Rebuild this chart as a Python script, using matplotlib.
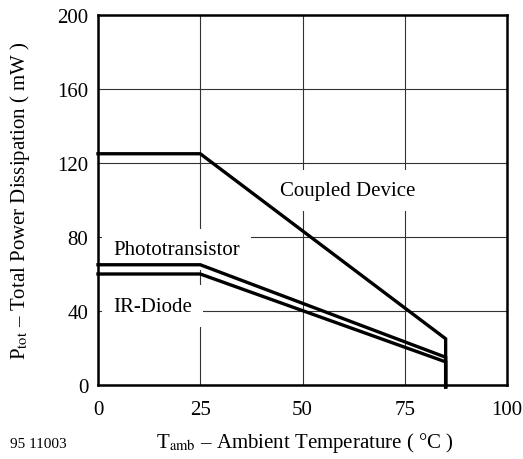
import matplotlib.pyplot as plt

plt.rcParams['font.family'] = ['Liberation Serif', 'DejaVu Serif']
plt.rcParams['mathtext.fontset'] = 'stix'

# derating curves (Tamb in degC, Ptot in mW)
t_coupled = [0, 25, 85, 85]
p_coupled = [125, 125, 25, -1]
t_photo = [0, 25, 85, 85]
p_photo = [65, 65, 15, -1]
t_diode = [0, 25, 85, 85]
p_diode = [60, 60, 12.5, -1]

xticks = [0, 25, 50, 75, 100]
yticks = [0, 40, 80, 120, 160, 200]

fig = plt.figure(figsize=(5.23, 4.60), dpi=100)
ax = fig.add_axes([98/523, 1-386/460, 409/523, 370/460])

ax.plot(t_coupled, p_coupled, color='black', lw=2.4, zorder=5, clip_on=False, solid_joinstyle='miter')
ax.plot(t_photo, p_photo, color='black', lw=2.4, zorder=5, clip_on=False, solid_joinstyle='miter')
ax.plot(t_diode, p_diode, color='black', lw=2.4, zorder=5, clip_on=False, solid_joinstyle='miter')

ax.set_xlim(0, 100)
ax.set_ylim(0, 200)
ax.set_xticks(xticks)
ax.set_yticks(yticks)
ax.grid(True, color='#333333', lw=0.8, zorder=1)
ax.set_axisbelow(True)
ax.tick_params(axis='both', direction='in', length=0, labelsize=15)
ax.tick_params(axis='x', pad=11)
ax.tick_params(axis='y', pad=7)
for s in ax.spines.values():
    s.set_linewidth(1.8)
    s.set_zorder(6)

box = dict(boxstyle='square,pad=0.55', fc='white', ec='none')
ax.text(44.5, 102.7, 'Coupled Device', fontsize=15, va='baseline', ha='left', bbox=box, zorder=3)
ax.text(3.7, 70.8, 'Phototransistor', fontsize=15, va='baseline', ha='left', bbox=box, zorder=3)
ax.text(3.7, 40.2, 'IR-Diode', fontsize=15, va='baseline', ha='left', bbox=box, zorder=3)

fig.text(305/523, 1-448/460, r'T$_{\rm amb}$ – Ambient Temperature ( °C )', fontsize=15,
         ha='center', va='baseline')
fig.text(20/523, 1-201/460, r'P$_{\rm tot}$ – Total Power Dissipation ( mW )', fontsize=15,
         ha='center', va='center', rotation=90)
fig.text(10/523, 1-448/460, '95 11003', fontsize=11, va='baseline', ha='left')

fig.savefig('out.png', dpi=100)
